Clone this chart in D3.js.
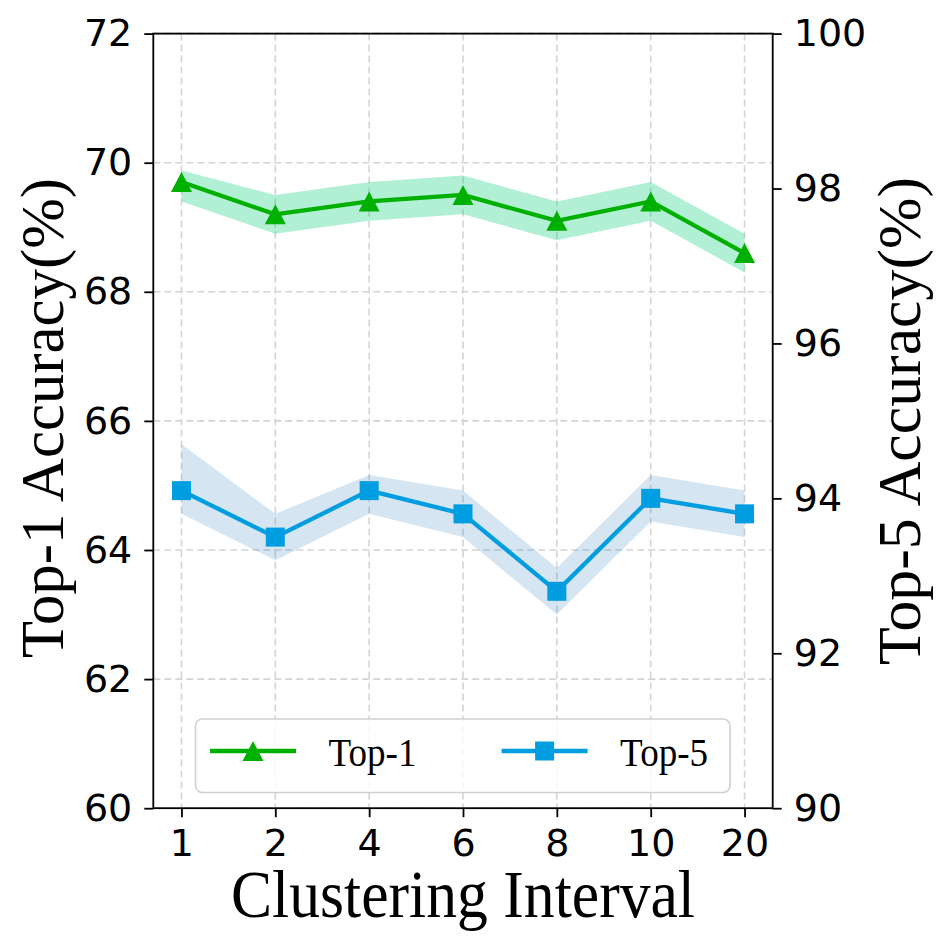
<!DOCTYPE html>
<html>
<head>
<meta charset="utf-8">
<script src="https://cdn.jsdelivr.net/npm/d3@7"></script>
<style>
  body { margin: 0; background: #fff; }
  svg { display: block; }
</style>
</head>
<body>
<script>
// chart data
var categories = ["1", "2", "4", "6", "8", "10", "20"]
var top1 = [69.7, 69.2, 69.4, 69.5, 69.1, 69.4, 68.6]
var top1Low = [69.4, 68.9, 69.1, 69.2, 68.8, 69.1, 68.3]
var top1High = [69.88, 69.5, 69.7, 69.8, 69.4, 69.7, 68.9]
var top5 = [94.1, 93.5, 94.1, 93.8, 92.8, 94.0, 93.8]
var top5Low = [93.8, 93.2, 93.8, 93.5, 92.5, 93.7, 93.5]
var top5High = [94.7, 93.8, 94.3, 94.1, 93.1, 94.3, 94.1]
var leftTicks = [60, 62, 64, 66, 68, 70, 72]
var rightTicks = [90, 92, 94, 96, 98, 100]

var W = 951, H = 951
var m = { top: 33.6, right: 178.3, bottom: 142.8, left: 153.3 }
var w = W - m.left - m.right
var h = H - m.top - m.bottom

var green = "#00b000", greenBand = "#00cd76"
var blue = "#009de0", blueBand = "#1f77b4"
var tickFont = "'DejaVu Sans', sans-serif"
var serif = "'Liberation Serif', 'Times New Roman', serif"

var svg = d3.select("body").append("svg")
	.attr("width", W)
	.attr("height", H)

var g = svg.append("g").attr("transform", "translate(" + m.left + "," + m.top + ")")

// scales: x is index with 5% margins, like matplotlib
var idx = d3.range(categories.length)
var x = d3.scaleLinear().domain([-0.3, categories.length - 1 + 0.3]).range([0, w])
var yL = d3.scaleLinear().domain([60, 72]).range([h, 0])
var yR = d3.scaleLinear().domain([90, 100]).range([h, 0])

// grid
g.append("g").selectAll("line.vg")
	.data(idx).enter().append("line")
	.attr("x1", function(d) { return x(d) })
	.attr("x2", function(d) { return x(d) })
	.attr("y1", 0).attr("y2", h)
	.attr("stroke", "#d4d4d4").attr("stroke-width", 1.6)
	.attr("stroke-dasharray", "7,4")
g.append("g").selectAll("line.hg")
	.data(leftTicks).enter().append("line")
	.attr("x1", 0).attr("x2", w)
	.attr("y1", function(d) { return yL(d) })
	.attr("y2", function(d) { return yL(d) })
	.attr("stroke", "#d4d4d4").attr("stroke-width", 1.6)
	.attr("stroke-dasharray", "7,4")

// bands
var band1 = d3.area()
	.x(function(d) { return x(d) })
	.y0(function(d) { return yL(top1Low[d]) })
	.y1(function(d) { return yL(top1High[d]) })
var band5 = d3.area()
	.x(function(d) { return x(d) })
	.y0(function(d) { return yR(top5Low[d]) })
	.y1(function(d) { return yR(top5High[d]) })

g.append("path").datum(idx).attr("d", band1)
	.attr("fill", greenBand).attr("fill-opacity", 0.3)
g.append("path").datum(idx).attr("d", band5)
	.attr("fill", blueBand).attr("fill-opacity", 0.19)

// lines
var line1 = d3.line().x(function(d) { return x(d) }).y(function(d) { return yL(top1[d]) })
var line5 = d3.line().x(function(d) { return x(d) }).y(function(d) { return yR(top5[d]) })

g.append("path").datum(idx).attr("d", line1)
	.attr("fill", "none").attr("stroke", green).attr("stroke-width", 4.3)
g.append("path").datum(idx).attr("d", line5)
	.attr("fill", "none").attr("stroke", blue).attr("stroke-width", 4.3)

// markers
var triPath = "M0,-10L10.5,10L-10.5,10Z"
var sqPath = "M-9.5,-9.5H9.5V9.5H-9.5Z"

g.append("g").selectAll("path")
	.data(idx).enter().append("path")
	.attr("d", triPath)
	.attr("transform", function(d) { return "translate(" + x(d) + "," + yL(top1[d]) + ")" })
	.attr("fill", green)
g.append("g").selectAll("path")
	.data(idx).enter().append("path")
	.attr("d", sqPath)
	.attr("transform", function(d) { return "translate(" + x(d) + "," + yR(top5[d]) + ")" })
	.attr("fill", blue)

// axes
var xAxis = d3.axisBottom(x).tickValues(idx)
	.tickFormat(function(d) { return categories[d] })
	.tickSize(9).tickSizeOuter(0).tickPadding(12)
var leftAxis = d3.axisLeft(yL).tickValues(leftTicks).tickSize(9).tickSizeOuter(0).tickPadding(12)
var rightAxis = d3.axisRight(yR).tickValues(rightTicks).tickSize(9).tickSizeOuter(0).tickPadding(12)

var ax = g.append("g").attr("transform", "translate(0," + h + ")").call(xAxis)
var al = g.append("g").call(leftAxis)
var ar = g.append("g").attr("transform", "translate(" + w + ",0)").call(rightAxis)

;[ax, al, ar].forEach(function(a) {
	a.select(".domain").remove()
	a.selectAll(".tick line").attr("stroke", "#000").attr("stroke-width", 1.8)
	a.selectAll(".tick text")
		.attr("fill", "#000")
		.style("font-family", tickFont)
		.style("font-size", "38px")
})

// frame
g.append("rect")
	.attr("width", w).attr("height", h)
	.attr("fill", "none").attr("stroke", "#000").attr("stroke-width", 1.8)

// axis titles
svg.append("text")
	.attr("x", m.left + w / 2).attr("y", 917)
	.attr("text-anchor", "middle")
	.attr("textLength", 464).attr("lengthAdjust", "spacingAndGlyphs")
	.style("font-family", serif).style("font-size", "67px")
	.text("Clustering Interval")

svg.append("text")
	.attr("transform", "translate(63,418) rotate(-90)")
	.attr("text-anchor", "middle")
	.attr("textLength", 480).attr("lengthAdjust", "spacingAndGlyphs")
	.style("font-family", serif).style("font-size", "61px")
	.text("Top-1 Accuracy(%)")

svg.append("text")
	.attr("transform", "translate(920,421) rotate(-90)")
	.attr("text-anchor", "middle")
	.attr("textLength", 488).attr("lengthAdjust", "spacingAndGlyphs")
	.style("font-family", serif).style("font-size", "61px")
	.text("Top-5 Accuracy(%)")

// legend
var legend = svg.append("g")
legend.append("rect")
	.attr("x", 195.5).attr("y", 719)
	.attr("width", 534.5).attr("height", 73.5)
	.attr("rx", 7)
	.attr("fill", "#fff").attr("fill-opacity", 0.8)
	.attr("stroke", "#d0d0d0").attr("stroke-width", 1.6)

var legendItems = [
	{ name: "Top-1", color: green, shape: triPath, x0: 210 },
	{ name: "Top-5", color: blue, shape: sqPath, x0: 501.6 }
]
var li = legend.selectAll("g.item").data(legendItems).enter().append("g")
li.append("line")
	.attr("x1", function(d) { return d.x0 })
	.attr("x2", function(d) { return d.x0 + 86 })
	.attr("y1", 751).attr("y2", 751)
	.attr("stroke", function(d) { return d.color })
	.attr("stroke-width", 4.3)
li.append("path")
	.attr("d", function(d) { return d.shape })
	.attr("transform", function(d) { return "translate(" + (d.x0 + 43) + ",751)" })
	.attr("fill", function(d) { return d.color })
li.append("text")
	.attr("x", function(d) { return d.x0 + 118.5 })
	.attr("y", 766)
	.attr("textLength", 88).attr("lengthAdjust", "spacingAndGlyphs")
	.style("font-family", serif).style("font-size", "40px")
	.text(function(d) { return d.name })
</script>
</body>
</html>
